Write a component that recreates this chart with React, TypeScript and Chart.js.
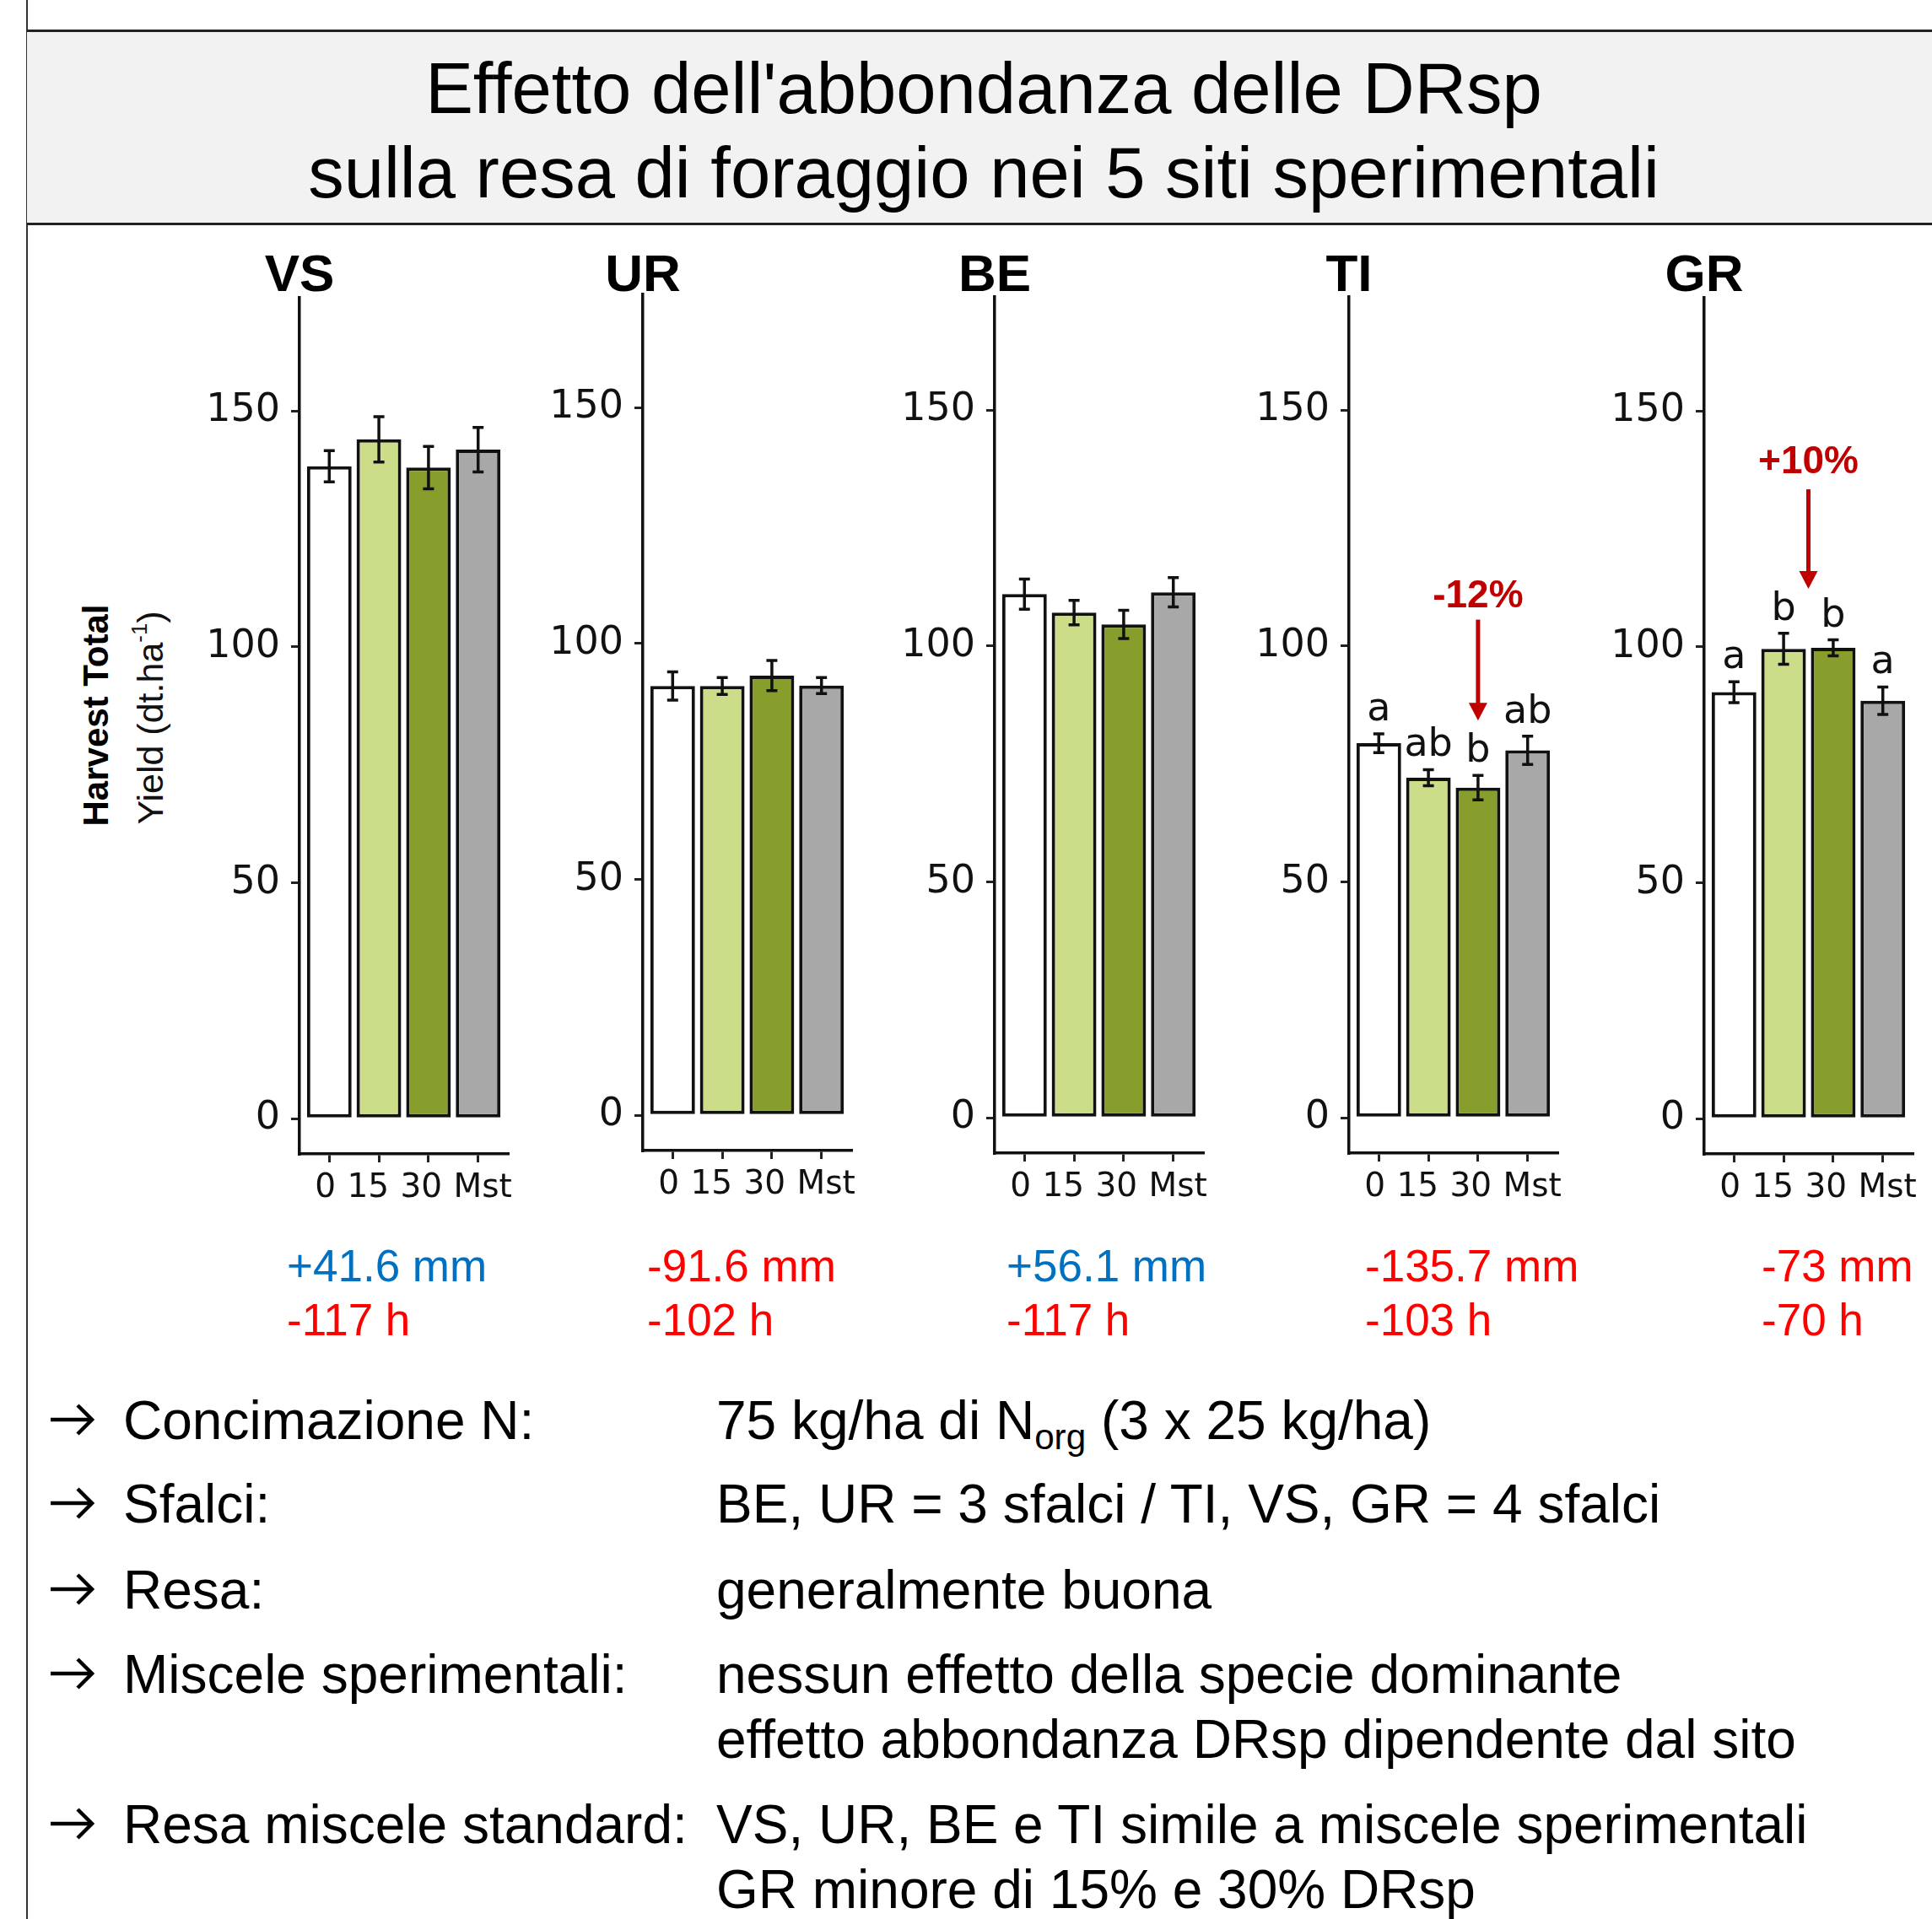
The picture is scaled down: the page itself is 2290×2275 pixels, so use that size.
import { useEffect, useRef } from 'react';
import { Chart, registerables } from 'chart.js';

Chart.register(...registerables);

// Treatments on the x axis: DRsp abundance (%) and the standard mixture
const CATEGORIES = ['0', '15', '30', 'Mst'];
const SITES = ['VS', 'UR', 'BE', 'TI', 'GR'];

// Mean total harvest yield (dt/ha) and its standard error, per treatment
const YIELD_VS = [138.3, 144.0, 138.0, 141.8];
const SE_VS = [3.3, 4.8, 4.5, 4.7];
const YIELD_UR = [91.0, 91.0, 93.2, 91.1];
const SE_UR = [3.0, 1.8, 3.2, 1.7];
const YIELD_BE = [111.0, 107.1, 104.6, 111.4];
const SE_BE = [3.2, 2.6, 3.0, 3.1];
const YIELD_TI = [79.4, 72.1, 70.0, 77.9];
const SE_TI = [2.0, 1.7, 2.6, 3.0];
const YIELD_GR = [90.4, 99.6, 99.8, 88.6];
const SE_GR = [2.2, 3.3, 1.7, 2.9];

// Significance groups
const LETTERS_TI = ['a', 'ab', 'b', 'ab'];
const LETTERS_GR = ['a', 'b', 'b', 'a'];

const Y_TICKS = [0, 50, 100, 150];

// Season anomalies per site (precipitation, sunshine)
const RAIN = ['+41.6 mm', '-91.6 mm', '+56.1 mm', '-135.7 mm', '-73 mm'];
const SUNSHINE = ['-117 h', '-102 h', '-117 h', '-103 h', '-70 h'];

// Highlighted differences: text, x category position, label / arrow anchors in yield units
const NOTE_TI = { text: '-12%', x: 3, labelY: 110.5, from: 105.6, to: 84.2 };
const NOTE_GR = { text: '+10%', x: 2.5, labelY: 139, from: 133.4, to: 112.3 };

const BAR_COLORS = ['#FFFFFF', '#CBDD88', '#879E2C', '#A8A8A8'];
const SANS = '"Liberation Sans", Arial, Helvetica, sans-serif';
const AXIS_FONT = '"DejaVu Sans", Verdana, sans-serif';

// Panel geometry
const Y_MIN = -7.47;
const Y_MAX = 174.0;
const CHART_W = 247;
const CHART_H = 1015;
const Y_AXIS_W = 140;
const PAD_TOP = 70;
const PAD_RIGHT = 26;
const X_AXIS_H = 70;
const CANVAS_W = Y_AXIS_W + CHART_W + PAD_RIGHT;
const CANVAS_H = PAD_TOP + CHART_H + X_AXIS_H;
const ZERO_OFFSET = Math.round((Y_MAX / (Y_MAX - Y_MIN)) * CHART_H) + PAD_TOP;
const SITE_TITLE_BASELINE = 345;

const PANEL_FRAMES = [
  { axisX: 355, zeroY: 1326 },
  { axisX: 762, zeroY: 1322 },
  { axisX: 1179, zeroY: 1325 },
  { axisX: 1599, zeroY: 1325 },
  { axisX: 2020, zeroY: 1326 },
];

const CLIMATE_X = [340, 767, 1193, 1618, 2088];

type Note = { text: string; x: number; labelY: number; from: number; to: number };

type PanelProps = {
  site: string;
  means: number[];
  errors: number[];
  letters?: string[];
  note?: Note;
  frame: { axisX: number; zeroY: number };
};

function Panel({ site, means, errors, letters, note, frame }: PanelProps) {
  const ref = useRef<HTMLCanvasElement>(null);
  const canvasTop = frame.zeroY - ZERO_OFFSET;

  useEffect(() => {
    if (!ref.current) return;

    const decor = {
      id: 'decor',
      afterDatasetsDraw(chart: any) {
        const { ctx, chartArea } = chart;
        const x = chart.scales.x;
        const y = chart.scales.y;
        ctx.save();

        // error bars (mean ± SE) and group letters
        means.forEach((m, i) => {
          const px = x.getPixelForValue(i + 1);
          const top = y.getPixelForValue(m + errors[i]);
          const bot = y.getPixelForValue(m - errors[i]);
          ctx.strokeStyle = '#111';
          ctx.lineWidth = 3.5;
          ctx.beginPath();
          ctx.moveTo(px, top);
          ctx.lineTo(px, bot);
          ctx.moveTo(px - 6.5, top);
          ctx.lineTo(px + 6.5, top);
          ctx.moveTo(px - 6.5, bot);
          ctx.lineTo(px + 6.5, bot);
          ctx.stroke();
          if (letters) {
            ctx.font = `46px ${AXIS_FONT}`;
            ctx.fillStyle = '#111';
            ctx.textAlign = 'center';
            ctx.textBaseline = 'alphabetic';
            ctx.fillText(letters[i], px, top - 16);
          }
        });

        // category labels, set as one spaced run under the axis
        ctx.font = `39px ${AXIS_FONT}`;
        ctx.fillStyle = '#111';
        ctx.textAlign = 'left';
        ctx.textBaseline = 'middle';
        const gap = ctx.measureText(' ').width + 1;
        let lx = x.getPixelForValue(1) - 17;
        CATEGORIES.forEach((c) => {
          ctx.fillText(c, lx, chartArea.bottom + 41);
          lx += ctx.measureText(c).width + gap;
        });

        // highlighted difference: arrow and percentage
        if (note) {
          const px = x.getPixelForValue(note.x);
          const yFrom = y.getPixelForValue(note.from);
          const yTo = y.getPixelForValue(note.to);
          ctx.strokeStyle = '#C00000';
          ctx.fillStyle = '#C00000';
          ctx.lineWidth = 5;
          ctx.beginPath();
          ctx.moveTo(px, yFrom);
          ctx.lineTo(px, yTo - 18);
          ctx.stroke();
          ctx.beginPath();
          ctx.moveTo(px - 11, yTo - 21);
          ctx.lineTo(px + 11, yTo - 21);
          ctx.lineTo(px, yTo);
          ctx.closePath();
          ctx.fill();
          ctx.font = `bold 46px ${SANS}`;
          ctx.textAlign = 'center';
          ctx.textBaseline = 'middle';
          ctx.fillText(note.text, px, y.getPixelForValue(note.labelY));
        }

        // site name above the axis
        ctx.fillStyle = '#000';
        ctx.font = `bold 62px ${SANS}`;
        ctx.textAlign = 'center';
        ctx.textBaseline = 'alphabetic';
        ctx.fillText(site, chartArea.left, SITE_TITLE_BASELINE - canvasTop);
        ctx.restore();
      },
    };

    const axisGrid = {
      drawOnChartArea: false,
      drawTicks: true,
      tickLength: 10,
      color: '#222',
      lineWidth: 3,
      offset: false,
    };
    const axisBorder = { display: true, color: '#111', width: 3.5 };

    const chart = new Chart(ref.current, {
      type: 'bar',
      data: {
        datasets: [
          {
            data: means.map((v, i) => ({ x: i + 1, y: v })),
            backgroundColor: BAR_COLORS,
            borderColor: '#111',
            borderWidth: 4,
            borderSkipped: false,
            barPercentage: 0.9,
            categoryPercentage: 1,
          },
        ],
      },
      options: {
        responsive: false,
        animation: false,
        devicePixelRatio: 1,
        layout: { padding: { top: PAD_TOP, right: PAD_RIGHT, left: 0, bottom: 0 } },
        plugins: {
          legend: { display: false },
          tooltip: { enabled: false },
          title: { display: false },
        },
        scales: {
          x: {
            type: 'linear',
            offset: false,
            bounds: 'data',
            min: 0.4,
            max: 4.6,
            afterBuildTicks: (axis: any) => {
              axis.ticks = CATEGORIES.map((_, i) => ({ value: i + 1 }));
            },
            afterFit: (scale: any) => {
              scale.height = X_AXIS_H;
            },
            ticks: {
              display: false,
              callback: (_v: any, i: number) => CATEGORIES[i],
              autoSkip: false,
            },
            grid: axisGrid,
            border: axisBorder,
          },
          y: {
            min: Y_MIN,
            max: Y_MAX,
            afterBuildTicks: (axis: any) => {
              axis.ticks = Y_TICKS.map((v) => ({ value: v }));
            },
            afterFit: (scale: any) => {
              scale.width = Y_AXIS_W;
            },
            ticks: {
              font: { family: AXIS_FONT, size: 46 },
              color: '#111',
              padding: 13,
            },
            grid: axisGrid,
            border: axisBorder,
          },
        },
      },
      plugins: [decor],
    } as any);

    return () => chart.destroy();
  }, [site, means, errors, letters, note, canvasTop]);

  return (
    <canvas
      ref={ref}
      width={CANVAS_W}
      height={CANVAS_H}
      style={{
        position: 'absolute',
        left: frame.axisX - Y_AXIS_W,
        top: canvasTop,
        width: CANVAS_W,
        height: CANVAS_H,
      }}
    />
  );
}

function Line({
  children,
  left,
  baseline,
  size,
  color = '#000',
  center = false,
}: {
  children: any;
  left: number;
  baseline: number;
  size: number;
  color?: string;
  center?: boolean;
}) {
  // line-height equals the font size; the baseline sits ~0.847em below the top
  const top = baseline - size * 0.847;
  return (
    <div
      style={{
        position: 'absolute',
        left,
        top,
        fontFamily: SANS,
        fontSize: size,
        lineHeight: `${size}px`,
        color,
        whiteSpace: 'nowrap',
        transform: center ? 'translateX(-50%)' : undefined,
      }}
    >
      {children}
    </div>
  );
}

// Bullet arrow: a shaft with an open head, sitting on the text's cap-middle
function BulletArrow({ left, baseline }: { left: number; baseline: number }) {
  const mid = baseline - 23;
  return (
    <svg
      width={56}
      height={44}
      style={{ position: 'absolute', left, top: mid - 22 }}
      viewBox="0 0 56 44"
    >
      <line x1={2} y1={22} x2={50} y2={22} stroke="#000" strokeWidth={4.5} />
      <polyline points="34,5 51,22 34,39" fill="none" stroke="#000" strokeWidth={4.5} />
    </svg>
  );
}

const BULLET_LABEL_X = 146;
const BULLET_VALUE_X = 849;
const BULLET_ARROW_X = 58;

export default function App() {
  const series = [
    { means: YIELD_VS, errors: SE_VS },
    { means: YIELD_UR, errors: SE_UR },
    { means: YIELD_BE, errors: SE_BE },
    { means: YIELD_TI, errors: SE_TI, letters: LETTERS_TI, note: NOTE_TI },
    { means: YIELD_GR, errors: SE_GR, letters: LETTERS_GR, note: NOTE_GR },
  ];

  const bullets: { base: number; label?: string; value: any }[] = [
    {
      base: 1706,
      label: 'Concimazione N:',
      value: (
        <>
          75 kg/ha di N
          <span style={{ fontSize: '0.66em', position: 'relative', top: '0.3em', lineHeight: 0 }}>org</span> (3 x 25
          kg/ha)
        </>
      ),
    },
    { base: 1805, label: 'Sfalci:', value: 'BE, UR = 3 sfalci / TI, VS, GR = 4 sfalci' },
    { base: 1907, label: 'Resa:', value: 'generalmente buona' },
    { base: 2007, label: 'Miscele sperimentali:', value: 'nessun effetto della specie dominante' },
    { base: 2084, value: 'effetto abbondanza DRsp dipendente dal sito' },
    { base: 2185, label: 'Resa miscele standard:', value: 'VS, UR, BE e TI simile a miscele sperimentali' },
    { base: 2262, value: 'GR minore di 15% e 30% DRsp' },
  ];

  return (
    <div
      style={{
        position: 'absolute',
        left: 0,
        top: 0,
        width: 2290,
        height: 2275,
        overflow: 'hidden',
        background: '#fff',
        fontFamily: SANS,
      }}
    >
      {/* slide edge */}
      <div style={{ position: 'absolute', left: 31, top: 0, width: 2, height: 2275, background: '#333' }} />

      {/* title box */}
      <div
        style={{
          position: 'absolute',
          left: 32,
          top: 35,
          width: 2258,
          height: 226,
          background: '#F2F2F2',
          borderTop: '3px solid #222',
          borderBottom: '3px solid #222',
        }}
      />
      <Line left={1166} baseline={134} size={85} center>
        Effetto dell'abbondanza delle DRsp
      </Line>
      <Line left={1166} baseline={234} size={85} center>
        sulla resa di foraggio nei 5 siti sperimentali
      </Line>

      {/* y axis title */}
      <div
        style={{
          position: 'absolute',
          left: 114,
          top: 848,
          transform: 'translate(-50%, -50%) rotate(-90deg)',
          fontFamily: SANS,
          fontWeight: 'bold',
          fontSize: 42,
          lineHeight: '42px',
          whiteSpace: 'nowrap',
          color: '#000',
        }}
      >
        Harvest Total
      </div>
      <div
        style={{
          position: 'absolute',
          left: 178,
          top: 851,
          transform: 'translate(-50%, -50%) rotate(-90deg)',
          fontFamily: SANS,
          fontSize: 43,
          lineHeight: '43px',
          whiteSpace: 'nowrap',
          color: '#111',
        }}
      >
        Yield (dt.ha
        <span style={{ fontSize: '0.6em', position: 'relative', top: '-0.75em', lineHeight: 0 }}>-1</span>)
      </div>

      {SITES.map((site, i) => (
        <Panel key={site} site={site} frame={PANEL_FRAMES[i]} {...series[i]} />
      ))}

      {/* precipitation and sunshine anomalies */}
      {SITES.map((site, i) => (
        <div key={`clim-${site}`}>
          <Line left={CLIMATE_X[i]} baseline={1519} size={53} color={RAIN[i].startsWith('+') ? '#0070C0' : '#FF0000'}>
            {RAIN[i]}
          </Line>
          <Line left={CLIMATE_X[i]} baseline={1583} size={53} color={SUNSHINE[i].startsWith('+') ? '#0070C0' : '#FF0000'}>
            {SUNSHINE[i]}
          </Line>
        </div>
      ))}

      {/* summary */}
      {bullets.map((b, i) => (
        <div key={`b-${i}`}>
          {b.label && (
            <>
              <BulletArrow left={BULLET_ARROW_X} baseline={b.base} />
              <Line left={BULLET_LABEL_X} baseline={b.base} size={64}>
                {b.label}
              </Line>
            </>
          )}
          <Line left={BULLET_VALUE_X} baseline={b.base} size={64}>
            {b.value}
          </Line>
        </div>
      ))}
    </div>
  );
}
